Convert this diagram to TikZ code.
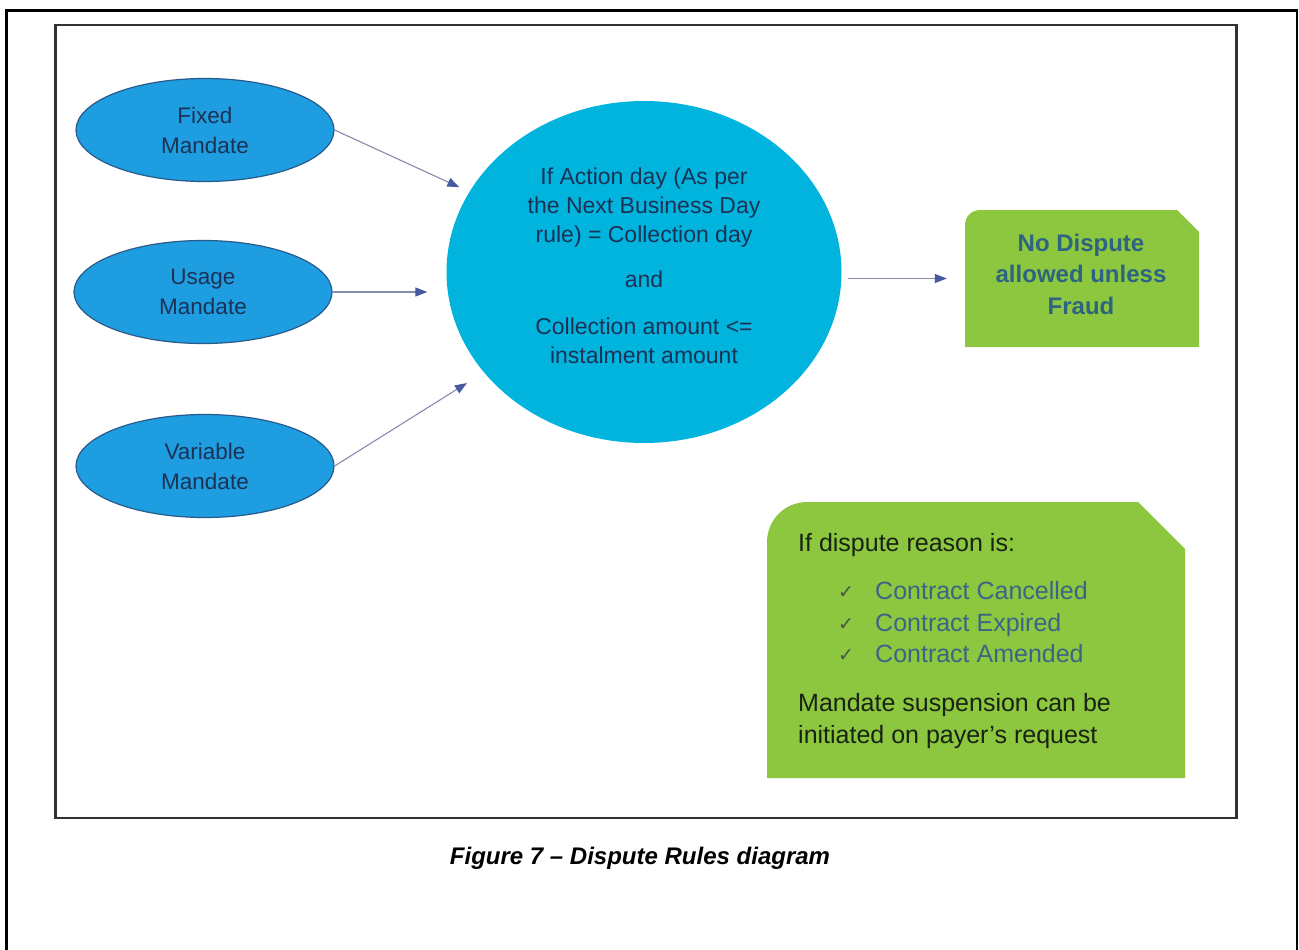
\documentclass[tikz,border=0pt]{standalone}
\usepackage{fontspec}
\setmainfont{Liberation Sans}
\newfontfamily\djv{DejaVu Sans}
\usetikzlibrary{shapes.geometric,arrows.meta}
\definecolor{ellfill}{RGB}{30,158,224}
\definecolor{elldraw}{RGB}{40,90,140}
\definecolor{circfill}{RGB}{0,180,222}
\definecolor{navytext}{RGB}{28,50,85}
\definecolor{boxgreen}{RGB}{141,198,63}
\definecolor{boxblue}{RGB}{45,100,130}
\definecolor{itemblue}{RGB}{60,100,135}
\definecolor{darktext}{RGB}{25,35,20}
\definecolor{checkgray}{RGB}{70,85,70}
\definecolor{arrline}{RGB}{135,140,175}
\definecolor{arrtip}{RGB}{70,90,160}
\definecolor{framegray}{RGB}{50,50,50}
\begin{document}
\begin{tikzpicture}[x=1pt,y=-1pt,
  mand/.style={ellipse, draw=elldraw, line width=1.2pt, fill=ellfill,
    minimum width=258pt, minimum height=103pt, inner sep=0pt,
    text=navytext, align=center, font=\fontsize{22.5}{30}\selectfont},
  arr/.style={draw=arrline, line width=1.1pt,
    -{Triangle[length=12pt,width=9pt,color=arrtip]}},
  boxtext/.style={anchor=base west, inner sep=0pt, font=\fontsize{25}{30}\selectfont},
  chk/.style={anchor=base west, inner sep=0pt, text=checkgray, font=\djv\fontsize{19}{22}\selectfont}
]
\useasboundingbox (0,0) rectangle (1299,950);
\fill[white] (0,0) rectangle (1299,950);

% outer frame
\draw[black, line width=2.6pt] (6.5,950) -- (6.5,10.5) -- (1297,10.5) -- (1297,950);
% inner frame
\draw[framegray, line width=2.4pt] (55.5,25) rectangle (1236.5,818);

% mandate ellipses
\node[mand] (fixed) at (205,130) {Fixed\\Mandate};
\node[mand] (usage) at (203,292) {Usage\\Mandate};
\node[mand] (variable) at (205,466) {Variable\\Mandate};

% central circle
\node[ellipse, fill=circfill, minimum width=395pt, minimum height=342pt, inner sep=0pt] (rule) at (644,272) {};
\node[align=center, text=navytext, font=\fontsize{23}{29}\selectfont] (ruletext) at (644,266)
  {If Action day (As per\\the Next Business Day\\rule) = Collection day\\[16pt]and\\[18pt]Collection amount <=\\instalment amount};

% result box
\node[minimum width=234pt, minimum height=137pt, inner sep=0pt] (nodispute) at (1082,278.5) {};
\fill[boxgreen] (980,210) -- (1177,210) -- (1199,232) -- (1199,347) -- (965,347) -- (965,225)
  .. controls (965,216.7) and (971.7,210) .. (980,210) -- cycle;
\node[align=center, text=boxblue, font=\fontsize{24}{31.5}\selectfont\bfseries] (nodisputetext) at (1081,274)
  {No Dispute\\allowed unless\\Fraud};

% reasons box
\node[minimum width=418pt, minimum height=276pt, inner sep=0pt] (reasons) at (976,640) {};
\fill[boxgreen] (807,502) -- (1138,502) -- (1185,549) -- (1185,778) -- (767,778) -- (767,542)
  .. controls (767,519.9) and (784.9,502) .. (807,502) -- cycle;
\node[boxtext, text=darktext] (rhead) at (798,551) {If dispute reason is:};
\node[chk] (c1) at (838,598) {✓};
\node[chk] (c2) at (838,630) {✓};
\node[chk] (c3) at (838,661) {✓};
\node[boxtext, text=itemblue] (r1) at (875,599) {Contract Cancelled};
\node[boxtext, text=itemblue] (r2) at (875,631) {Contract Expired};
\node[boxtext, text=itemblue] (r3) at (875,662) {Contract Amended};
\node[boxtext, text=darktext] (m1) at (798,711) {Mandate suspension can be};
\node[boxtext, text=darktext] (m2) at (798,743) {initiated on payer’s request};

% arrows
\draw[arr, shorten >=11pt] (fixed.east) -- (rule);
\draw[arr, shorten >=19pt] (usage.east) -- (usage.east -| rule.west);
\draw[arr, shorten >=20pt] (variable.east) -- (rule);
\draw[arr, shorten <=6pt, shorten >=18pt] (rule.east |- nodispute.west) -- (nodispute.west);

% caption
\node[font=\fontsize{24}{28}\selectfont\bfseries\itshape] (caption) at (640,858)
  {Figure 7 – Dispute Rules diagram};
\end{tikzpicture}
\end{document}
